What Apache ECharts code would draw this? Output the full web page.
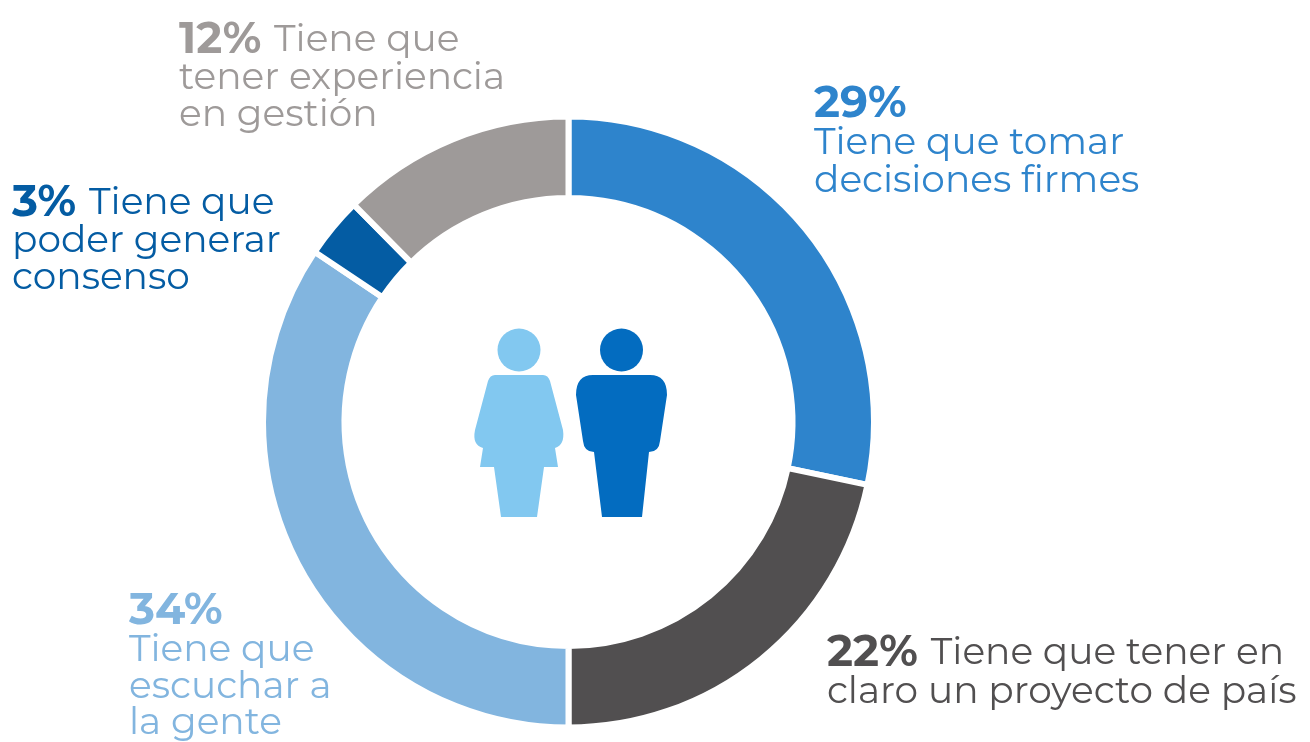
<!DOCTYPE html>
<html lang="es">
<head>
<meta charset="UTF-8">
<title>Liderazgo</title>
<script src="https://cdn.jsdelivr.net/npm/echarts@6/dist/echarts.min.js"></script>
<style>
html,body{margin:0;padding:0;background:#fff}
#main{width:1310px;height:742px}
</style>
</head>
<body>
<div id="main"></div>
<script>
var categories = ['Tiene que tomar decisiones firmes', 'Tiene que tener en claro un proyecto de país', 'Tiene que escuchar a la gente', 'Tiene que poder generar consenso', 'Tiene que tener experiencia en gestión'];
// porcentajes impresos en las etiquetas
var percents = [29, 22, 34, 3, 12];
// tamano de los arcos tal como estan dibujados (el azul ocupa algo menos que su 29%)
var sliceValues = [28.3, 21.7, 34.4, 3.2, 12.4];
var colors = ['#2e84cc', '#514f50', '#82b5df', '#045ca3', '#9e9a99'];
var font = 'Montserrat, "Open Sans", "Noto Sans", sans-serif';

// figuras del centro
echarts.graphic.registerShape('mujer', echarts.graphic.extendPath('M495 375 L543 375 Q548 375 550 381 L563 430 Q565 445 555 448 L558 467 L544 467 L537 517 L501 517 L494 467 L480 467 L483 448 Q472 445 475 430 L488 381 Q490 375 495 375 Z', {}));
echarts.graphic.registerShape('hombre', echarts.graphic.extendPath('M593 375 L650 375 Q667 375 667 395 L660 441 Q659 452 649 452 L642 517 L602 517 L594 452 Q584 452 583 441 L576 395 Q576 375 593 375 Z', {}));

// etiqueta: porcentaje en negrita + lineas de texto
function label(x, y, i, lines, lh, lhFirst) {
  var first = lines[0];
  return {
    type: 'text', left: x, top: y,
    style: {
      text: '{b|' + percents[i] + '%}' + (first ? ' ' + first : '') + '\n' + lines.slice(1).join('\n'),
      fill: colors[i], font: '37.5px ' + font, lineHeight: lh,
      rich: { b: { font: 'bold 44px ' + font, fill: colors[i], lineHeight: lhFirst, padding: [0, 3, 0, 0] } }
    }
  };
}

var chart = echarts.init(document.getElementById('main'));
chart.setOption({
  animation: false,
  series: [{
    type: 'pie',
    center: [568.5, 422],
    radius: [224, 305.5],
    startAngle: 90,
    silent: true,
    itemStyle: { borderColor: '#fff', borderWidth: 6 },
    label: { show: false },
    data: categories.map(function (c, i) {
      return { name: c, value: sliceValues[i], itemStyle: { color: colors[i] } };
    })
  }],
  graphic: [
    label(814, 82, 0, ['', 'Tiene que tomar', 'decisiones firmes'], 38, 39),
    label(827, 631, 1, ['Tiene que tener en', 'claro un proyecto de país'], 38, 39),
    label(129, 589, 2, ['', 'Tiene que', 'escuchar a', 'la gente'], 36.5, 42),
    label(12, 181, 3, ['Tiene que', 'poder generar', 'consenso'], 37.5, 35),
    label(179, 18, 4, ['Tiene que', 'tener experiencia', 'en gestión'], 37.5, 37),
    { type: 'circle', shape: { cx: 519, cy: 350, r: 21.5 }, style: { fill: '#82c8f0' } },
    { type: 'mujer', style: { fill: '#82c8f0' } },
    { type: 'circle', shape: { cx: 621.5, cy: 350, r: 21.5 }, style: { fill: '#036cc0' } },
    { type: 'hombre', style: { fill: '#036cc0' } }
  ]
});
</script>
</body>
</html>
